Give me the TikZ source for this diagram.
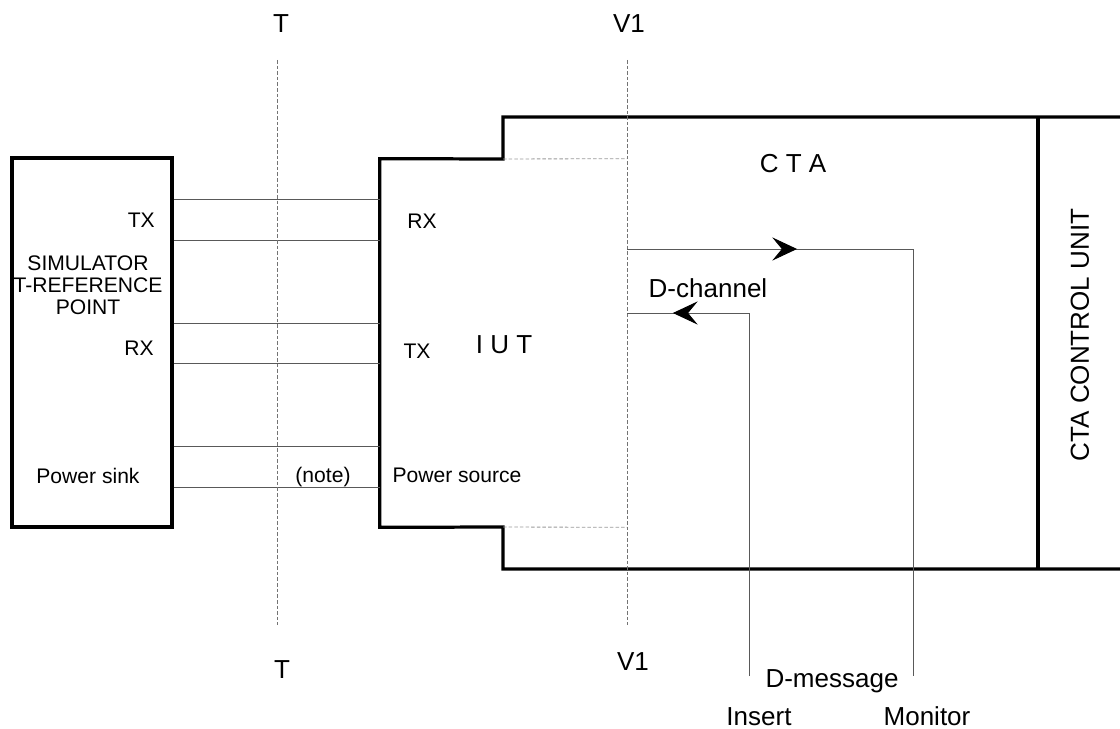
\documentclass[tikz,border=0pt]{standalone}
\usepackage{fontspec}
\setmainfont{Liberation Sans}
\usetikzlibrary{arrows.meta,decorations.markings}

\begin{document}
\begin{tikzpicture}[x=0.025cm, y=-0.025cm,
  outline/.style={line width=2.3pt, line join=miter},
  wire/.style={draw=black!65, line width=0.7pt},
  refline/.style={draw=black!55, line width=0.6pt, dash pattern=on 2.5pt off 1.5pt},
  bigtxt/.style={font=\fontsize{18.5}{22}\selectfont, inner sep=0pt},
  smalltxt/.style={font=\fontsize{15}{15.6}\selectfont, inner sep=0pt},
  flow/.style={wire, postaction={decorate}, decoration={markings,
    mark=at position #1 with {\arrow[black]{Stealth[length=0.62cm, width=0.58cm, inset=0.24cm]}}}}]
  \useasboundingbox (0,0) rectangle (1120,729);

  % simulator and the IUT / CTA outline
  \node[draw, outline, minimum width=4cm, minimum height=9.225cm, inner sep=0pt] (sim) at (92,342.5) {};
  \node[minimum width=6.175cm, minimum height=9.2cm, inner sep=0pt] (iut) at (503.5,343) {};
  \draw[outline] (1120,117) -- (503,117) -- (503,159) -- (iut.north west) -- (iut.south west)
    -- (503,527) -- (503,569) -- (1120,569);
  \draw[outline] (1038,117) -- (1038,569);
  \draw[refline, draw=black!40] (503,159) -- (iut.north east) (503,527) -- (iut.south east);

  % interface lines
  \foreach \y in {199,240,323,363,446,487}
    \draw[wire] (sim.east |- 0,\y) -- (iut.west |- 0,\y);

  % reference points
  \node[bigtxt, anchor=base] (ttop) at (281,33) {T};
  \node[bigtxt, anchor=base] (tbot) at (282,678) {T};
  \node[bigtxt, anchor=base] (vtop) at (629,33) {V1};
  \node[bigtxt, anchor=base] (vbot) at (633,670) {V1};
  \coordinate (t1) at (277,60);
  \coordinate (t2) at (277,625);
  \coordinate (v1) at (627,60);
  \coordinate (v2) at (627,625);
  \draw[refline] (t1) -- (t2);
  \draw[refline] (v1) -- (v2);

  % simulator labels
  \node[smalltxt, anchor=base east] (stx) at (155,227) {TX};
  \node[smalltxt, align=center] (sname) at (88,285) {SIMULATOR\\T-REFERENCE\\POINT};
  \node[smalltxt, anchor=base east] (srx) at (154,355) {RX};
  \node[smalltxt, anchor=base] (ssink) at (88,483) {Power sink};
  \node[smalltxt, anchor=base] (note) at (323,482) {(note)};

  % IUT labels
  \node[smalltxt, anchor=base] (irx) at (422,228) {RX};
  \node[smalltxt, anchor=base] (itx) at (417,358) {TX};
  \node[bigtxt, anchor=base] (iname) at (504,353) {I U T};
  \node[smalltxt, anchor=base] (isrc) at (457,482) {Power source};

  % CTA
  \node[bigtxt, anchor=base] (cta) at (793,173) {C T A};
  \node[bigtxt, rotate=90] (ctrl) at (1080,335) {CTA CONTROL UNIT};
  \node[bigtxt, anchor=base] (dch) at (708,297) {D-channel};
  \node[bigtxt, anchor=base] (dmsg) at (832,687) {D-message};
  \node[bigtxt, anchor=base] (ins) at (759,725) {Insert};
  \node[bigtxt, anchor=base] (mon) at (927,725) {Monitor};
  \coordinate (a1) at (627,249);
  \coordinate (m1) at (913,676);
  \coordinate (a2) at (627,313);
  \coordinate (i1) at (749,676);
  \draw[flow=4.25cm] (a1) -- (m1 |- a1) -- (m1);
  \draw[flow=10.975cm] (i1) -- (i1 |- a2) -- (a2);
\end{tikzpicture}
\end{document}
